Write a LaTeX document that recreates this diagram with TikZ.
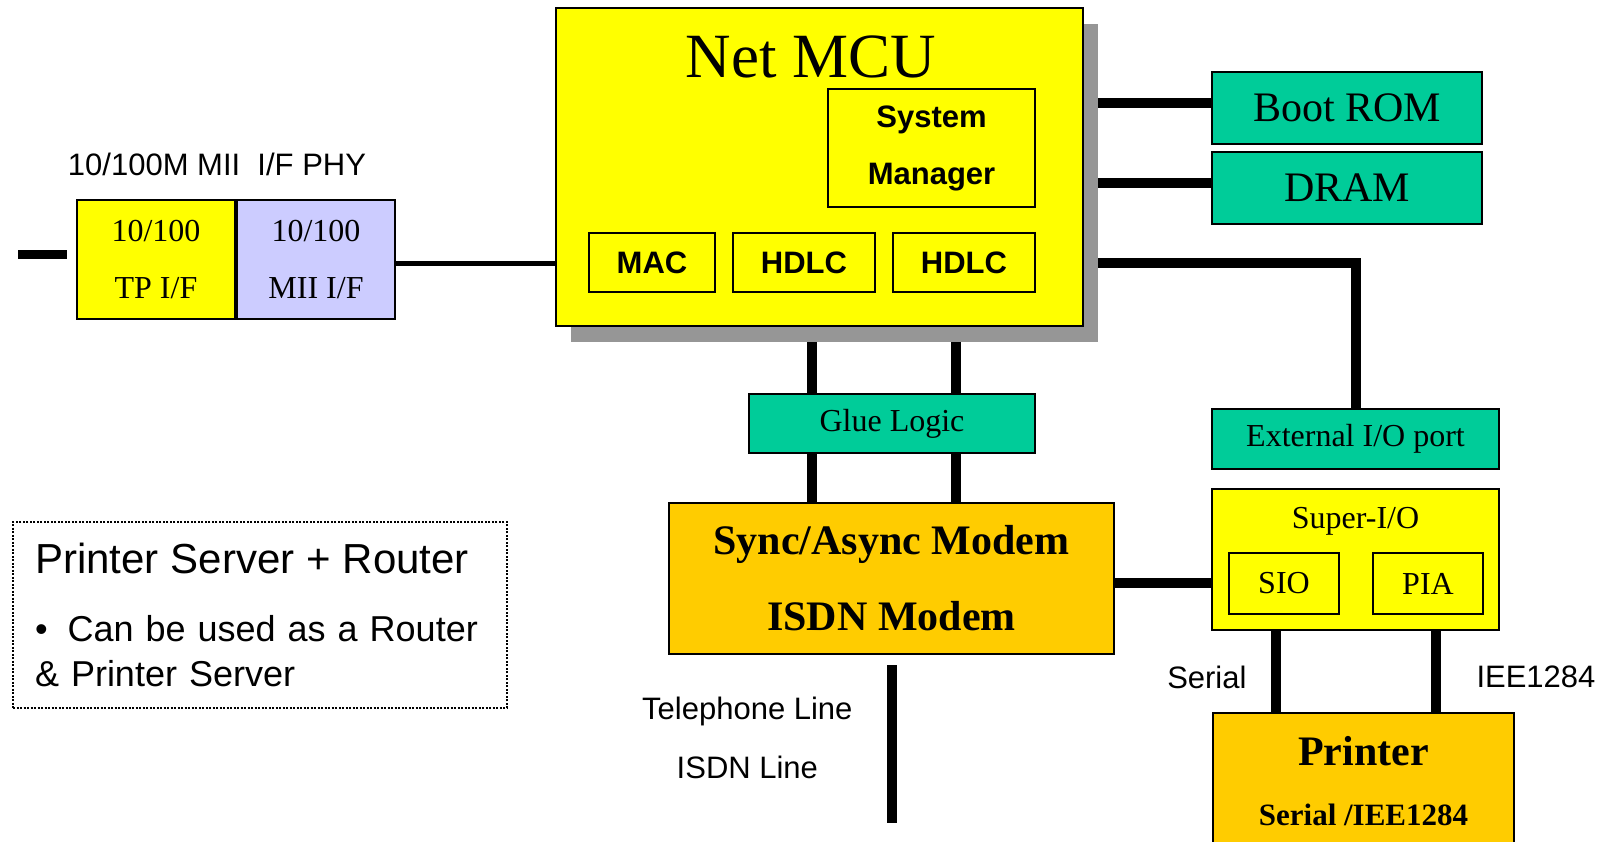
\documentclass[tikz,border=0pt]{standalone}
\usepackage{fontspec}
\setmainfont{Liberation Serif}
\setsansfont{Liberation Sans}
\usepackage{tikz}
\usetikzlibrary{positioning,shadows,backgrounds}
\definecolor{chipyellow}{HTML}{FFFF00}
\definecolor{memgreen}{HTML}{00CC99}
\definecolor{phylilac}{HTML}{CCCCFF}
\definecolor{modemorange}{HTML}{FFCC00}
\definecolor{shadowgrey}{HTML}{969696}
\tikzset{
box/.style={draw, line width=2pt, inner sep=0pt, align=center}, % every block
chip/.style={box, fill=chipyellow}, % yellow chips
mem/.style={box, fill=memgreen, font=\rmfamily\fontsize{42}{50}\selectfont}, % green parts
part/.style={box, font=\sffamily\bfseries\fontsize{31}{57}\selectfont}, % blocks inside the MCU
bus/.style={line width=10pt}, % thick board wires
wire/.style={line width=5pt},
tag/.style={inner sep=0pt, font=\sffamily\fontsize{31}{59}\selectfont}, % plain labels
}

\begin{document}
\begin{tikzpicture}[x=1pt, y=-1pt]
\useasboundingbox (0,0) rectangle (1603,841);
        % PHY
        \node[box, fill=chipyellow, minimum width=158pt, minimum height=119pt, font=\rmfamily\fontsize{32}{57}\selectfont] (tp) at (156,259.5) {10/100\\TP I/F};
        \node[box, fill=phylilac, minimum width=158pt, minimum height=119pt, font=\rmfamily\fontsize{32}{57}\selectfont] (mii) [right=0pt of tp] {10/100\\MII I/F};
        \node[tag] (phy_label) at (217,164) {10/100M MII\ \ I/F PHY};
        \coordinate (lan_a) at (18,254.5);
        \coordinate (lan_b) at (67,254.5);
        % MCU
        \node[chip, minimum width=527pt, minimum height=318pt, general shadow={fill=shadowgrey, shadow xshift=15pt, shadow yshift=-16pt}] (mcu) at (819.5,167) {};
        \node[inner sep=0pt, font=\rmfamily\fontsize{63}{63}\selectfont] (mcu_title) at (811,57) {Net MCU};
        \node[part, minimum width=207pt, minimum height=118pt] (sys_mgr) at (931.5,148) {System\\Manager};
        \node[part, minimum width=126pt, minimum height=59pt] (mac) at (652,262.5) {MAC};
        \node[part, minimum width=142pt, minimum height=59pt] (hdlc_a) [right=16pt of mac] {HDLC};
        \node[part, minimum width=142pt, minimum height=59pt] (hdlc_b) [right=16pt of hdlc_a] {HDLC};
        % memory and ports
        \node[mem, minimum width=270pt, minimum height=72pt] (boot_rom) at (1347,108) {Boot ROM};
        \node[mem, minimum width=270pt, minimum height=72pt] (dram) [below=6pt of boot_rom] {DRAM};
        \node[mem, font=\rmfamily\fontsize{32}{38}\selectfont, minimum width=287pt, minimum height=60pt] (ext_io) at (1355.5,439) {External I/O port};
        \node[mem, font=\rmfamily\fontsize{32}{38}\selectfont, minimum width=286pt, minimum height=59pt] (glue) at (892,423.5) {Glue Logic};
        % modem
        \node[box, fill=modemorange, minimum width=445pt, minimum height=151pt, font=\rmfamily\bfseries\fontsize{42}{76}\selectfont] (modem) at (891.5,578.5) {Sync/Async Modem\\ISDN Modem};
        \coordinate (phone_end) at (891.5,823);
        % super I/O
        \node[chip, minimum width=287pt, minimum height=141pt] (super_io) at (1355.5,559.5) {};
        \node[inner sep=0pt, anchor=base, font=\rmfamily\fontsize{32}{38}\selectfont] (super_io_title) at (1355.5,528) {Super-I/O};
        \node[box, minimum width=110pt, minimum height=61pt, font=\rmfamily\fontsize{32}{38}\selectfont] (sio) at (1284,583.5) {SIO};
        \node[box, minimum width=110pt, minimum height=61pt, font=\rmfamily\fontsize{32}{38}\selectfont] (pia) at (1428,583.5) {PIA};
        % printer
        \node[box, fill=modemorange, anchor=north, minimum width=301pt, minimum height=136pt, font=\rmfamily\bfseries\fontsize{42}{60}\selectfont] (printer) at (1363.5,712) {Printer\\{\fontsize{31}{60}\selectfont Serial /IEE1284}};
        % note
        \node[draw, line width=2pt, dash pattern=on 2pt off 1.5pt, anchor=north west, text width=450pt, inner xsep=22pt, inner ysep=21pt, align=left, font=\sffamily\fontsize{36}{45}\selectfont] (note) at (12,521)
            {{\fontsize{42}{45}\selectfont Printer Server + Router}\\[23pt]•\hspace{20pt}Can be used as a Router\\\& Printer Server};
        \begin{scope}[on background layer]
        \draw[bus, line width=9pt] (lan_a) -- (lan_b);
        \draw[wire] ([yshift=-3.5pt]mii.east) -- ([yshift=-3.5pt]mii.east -| mcu.west);
        \draw[bus] ([yshift=5pt]boot_rom.west) -- ([yshift=5pt]boot_rom.west -| mcu.east);
        \draw[bus] ([yshift=5pt]dram.west) -- ([yshift=5pt]dram.west -| mcu.east);
        \draw[bus] ([yshift=-3.5pt]mii.east -| mcu.east) -| (ext_io.north);
        \foreach \dx in {-80,64} {
          \draw[bus] ([xshift=\dx pt]glue.north) -- ([xshift=\dx pt]glue.north |- mcu.south);
          \draw[bus] ([xshift=\dx pt]glue.south) -- ([xshift=\dx pt]glue.south |- modem.north);
        }
        \draw[bus] ([yshift=-4.5pt]modem.east) -- ([yshift=-4.5pt]modem.east -| super_io.west);
        \draw[bus] ([xshift=-80pt]super_io.south) -- node[tag, left=24pt, pos=0.57] {Serial} ([xshift=-80pt]super_io.south |- printer.north);
        \draw[bus] ([xshift=80pt]super_io.south) -- node[tag, right=36pt, pos=0.57] {IEE1284} ([xshift=80pt]super_io.south |- printer.north);
        \draw[bus] ([yshift=-10pt]modem.south) -- node[tag, left=34pt, align=center, pos=0.46] {Telephone Line\\ISDN Line} (phone_end);
        \end{scope}
\end{tikzpicture}
\end{document}
